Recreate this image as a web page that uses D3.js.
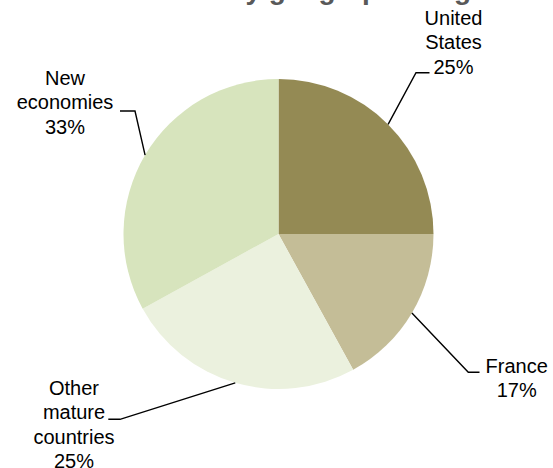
<!DOCTYPE html>
<html>
<head>
<meta charset="utf-8">
<script src="https://cdn.jsdelivr.net/npm/d3@7"></script>
<style>
  html, body { margin: 0; padding: 0; background: #fff; }
  svg { display: block; }
</style>
</head>
<body>
<svg id="chart" width="553" height="468"></svg>
<script>
// Revenue split by region
const categories = ["United States", "France", "Other mature countries", "New economies"];
const shares = [25, 17, 25, 33];
const labelLines = [["United", "States"], ["France"], ["Other", "mature", "countries"], ["New", "economies"]];
const sliceColors = ["#948A54", "#C4BD97", "#EBF1DE", "#D7E4BD"];
const titleText = "Breakdown by geographic region";

// Geometry of the pie and of each callout (text centre, first baseline, elbow, tail end)
const W = 553, H = 468;
const center = { x: 278.5, y: 234 };
const radius = 155;
const lineHeight = 24.4;
const callouts = [
  { tx: 453.5, ty: 25,    elbow: [416, 72.7],   tail: [429.5, 72.7] },
  { tx: 516.7, ty: 372.7, elbow: [468.3, 372.3], tail: [479.5, 372.3] },
  { tx: 74,    ty: 395,   elbow: [120, 419.3],  tail: [108.3, 419.3] },
  { tx: 65,    ty: 85,    elbow: [135, 111],    tail: [120, 111] }
];

const svg = d3.select("#chart");

// Title, sitting mostly above the top edge of the chart area
svg.append("text")
  .attr("x", 513)
  .attr("y", -1)
  .attr("text-anchor", "end")
  .attr("font-family", "'Liberation Sans', Arial, sans-serif")
  .attr("font-weight", "bold")
  .attr("font-size", 28)
  .attr("fill", "#595959")
  .text(titleText);

const data = categories.map((c, i) => ({ name: c, value: shares[i], lines: labelLines[i], color: sliceColors[i], callout: callouts[i] }));

const pie = d3.pie().value(d => d.value).sort(null).startAngle(0).endAngle(2 * Math.PI);
const arcs = pie(data);

const arc = d3.arc().innerRadius(0).outerRadius(radius);
const edgeArc = d3.arc().innerRadius(radius).outerRadius(radius);

const g = svg.append("g").attr("transform", `translate(${center.x},${center.y})`);

g.selectAll("path.slice")
  .data(arcs)
  .join("path")
  .attr("class", "slice")
  .attr("d", arc)
  .attr("fill", d => d.data.color);

// Leader lines: slice edge at mid-angle -> elbow -> short horizontal tail
const line = d3.line();
svg.selectAll("path.leader")
  .data(arcs)
  .join("path")
  .attr("class", "leader")
  .attr("d", d => {
    const [ex, ey] = edgeArc.centroid(d);
    const c = d.data.callout;
    return line([[center.x + ex, center.y + ey], c.elbow, c.tail]);
  })
  .attr("fill", "none")
  .attr("stroke", "#000")
  .attr("stroke-width", 1.4);

// Category name and percentage
const labels = svg.selectAll("text.label")
  .data(arcs)
  .join("text")
  .attr("class", "label")
  .attr("text-anchor", "middle")
  .attr("font-family", "'Liberation Sans', Arial, sans-serif")
  .attr("font-size", 20)
  .attr("fill", "#000");

labels.each(function (d) {
  const t = d3.select(this);
  const c = d.data.callout;
  const rows = d.data.lines.concat([d.data.value + "%"]);
  rows.forEach((r, i) => {
    t.append("tspan")
      .attr("x", c.tx)
      .attr("y", c.ty + i * lineHeight)
      .text(r);
  });
});
</script>
</body>
</html>
